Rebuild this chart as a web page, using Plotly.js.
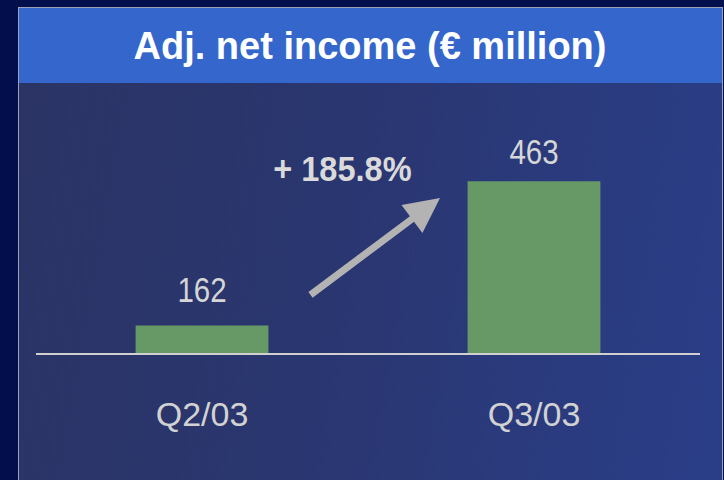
<!DOCTYPE html>
<html>
<head>
<meta charset="utf-8">
<script src="https://cdn.plot.ly/plotly-3.0.1.min.js"></script>
<style>
  html, body { margin: 0; padding: 0; width: 724px; height: 480px; overflow: hidden; background: #020f4c; }
  #panel { position: absolute; left: 18px; top: 7px; width: 705px; height: 480px; box-sizing: border-box;
           border: 1px solid #9ba2b4; background: linear-gradient(100deg, #2b3464 0%, #2a3670 45%, #2a3e88 100%); }
  #titlebar { position: absolute; left: 19px; top: 8px; width: 703px; height: 75px; background: #3466cc; }
  #chart { position: absolute; left: 0; top: 0; width: 724px; height: 480px; }
  /* condensed look for the number labels (Arial Narrow is not installed) */
  #chart .annotation[data-index="0"] .annotation-text,
  #chart .annotation[data-index="1"] .annotation-text {
    transform-box: fill-box; transform-origin: center; transform: scaleX(0.82);
  }
  #chart .annotation[data-index="2"] .annotation-text {
    transform-box: fill-box; transform-origin: center; transform: scaleX(0.93);
  }
</style>
</head>
<body>
<div id="panel"></div>
<div id="titlebar"></div>
<div id="chart"></div>
<script>
const chartTitle = "Adj. net income (€ million)";
const categories = ["Q2/03", "Q3/03"];
const values = [162, 463];
const valueLabels = ["162", "463"];
const growthLabel = "+ 185.8%";

const labelShift = [36, 30];

const annotations = categories.map((c, i) => ({
  x: c, y: values[i], xref: "x", yref: "y",
  text: valueLabels[i], showarrow: false,
  yanchor: "middle", yshift: labelShift[i],
  font: { family: "Liberation Sans, Arial, sans-serif", size: 36, color: "#d6d6d6" }
}));

annotations.push({
  x: (342 - 36) / 664, y: (353 - 168) / 253, xref: "paper", yref: "paper",
  text: growthLabel, showarrow: false, xanchor: "center", yanchor: "middle",
  font: { family: "Liberation Sans, Arial, sans-serif", size: 35, color: "#dadada", weight: "bold" }
});

annotations.push({
  x: (440 - 36) / 664, y: (353 - 198) / 253, xref: "paper", yref: "paper",
  text: "", showarrow: true, arrowhead: 2, arrowsize: 1, arrowwidth: 7,
  arrowcolor: "#b3b3b3", ax: -131, ay: 98
});

const data = [{
  type: "bar",
  x: categories,
  y: values,
  width: 0.4,
  marker: { color: "#669966" },
  hoverinfo: "skip"
}];

const layout = {
  width: 724, height: 480,
  margin: { l: 36, r: 24, t: 100, b: 127 },
  paper_bgcolor: "rgba(0,0,0,0)",
  plot_bgcolor: "rgba(0,0,0,0)",
  showlegend: false,
  title: {
    text: chartTitle, xref: "container", yref: "container",
    x: 370 / 724, xanchor: "center", y: 1 - 46 / 480, yanchor: "middle",
    font: { family: "Liberation Sans, Arial, sans-serif", size: 38, color: "#ffffff", weight: "bold" }
  },
  xaxis: {
    type: "category", range: [-0.5, 1.5], showgrid: false, zeroline: false,
    showline: true, linecolor: "#d0d0d0", linewidth: 2, ticks: "",
    ticklabelstandoff: 30,
    tickfont: { family: "Liberation Sans, Arial, sans-serif", size: 34, color: "#d2d2d2" }
  },
  yaxis: {
    range: [104.6, 632.4], visible: false, showgrid: false, zeroline: false, fixedrange: true
  },
  annotations: annotations
};

Plotly.newPlot("chart", data, layout, { displayModeBar: false, staticPlot: true });
</script>
</body>
</html>
